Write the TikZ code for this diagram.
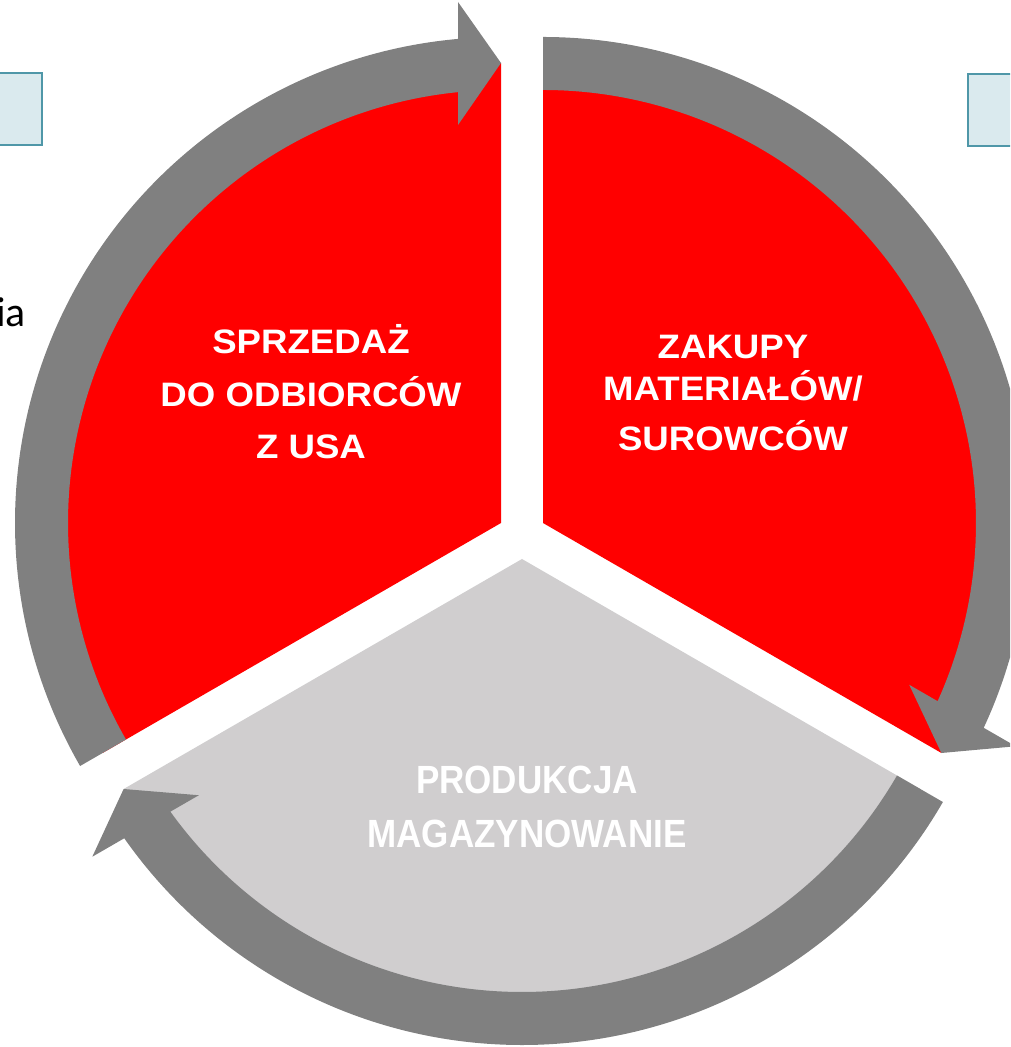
\documentclass[tikz,border=0pt]{standalone}
\usepackage{fontspec}
\setmainfont{Liberation Sans}
\newfontfamily\topfont[FakeStretch=1.08]{Liberation Sans}
\newfontfamily\bottomfont[FakeStretch=0.89]{Liberation Sans}
\newfontfamily\slidefont{Carlito}
\usepackage{xcolor}
\usetikzlibrary{positioning,calc}

\definecolor{segred}{HTML}{FF0000}
\definecolor{bandgray}{HTML}{808080}
\definecolor{prodgray}{HTML}{D0CECF}
\definecolor{boxfill}{HTML}{DAEAEE}
\definecolor{boxdraw}{HTML}{4F97A8}

% one part of the cycle: shift, direction of the arrow tip, fill
\newcommand{\cyclepart}[3]{%
  \begin{scope}[shift={#1}, rotate=#2]
    \fill[#3] (0,0) -- (120:460) arc[start angle=120, end angle=0, radius=460] -- cycle;
    \fill[band] (120:486) arc[start angle=120, end angle={asin(43/486)}, radius=486]
      -- (521,43) -- (460,0) -- (398,43) -- ({asin(43/433)}:433)
      arc[start angle={asin(43/433)}, end angle=120, radius=433] -- cycle;
  \end{scope}}

\begin{document}
\begin{tikzpicture}[
    x=0.02cm, y=0.02cm, % one unit is one pixel of the slide
    band/.style={fill=bandgray},
    seglabel/.style={text=white, align=center, inner sep=0pt},
    sidebox/.style={fill=boxfill, draw=boxdraw, line width=1.3}
]
\useasboundingbox (-522,-512) rectangle (488,535);
\clip (-522,-512) rectangle (488,535);

% Boxes at the slide edges
\filldraw[sidebox] (-560,462) rectangle (-480,390);
\filldraw[sidebox] (446,461) rectangle (540,389);
\node[anchor=base east, inner sep=0pt, font=\slidefont\fontsize{23.8pt}{28pt}\selectfont] (I) at (-496,208) {ia};

% Parts of the cycle
\cyclepart{(-21,12)}{90}{segred}
\cyclepart{(21,12)}{-30}{segred}
\cyclepart{(0,-24)}{210}{prodgray}

% Labels
\node[seglabel, font=\topfont\bfseries\fontsize{19.3pt}{29.8pt}\selectfont] (A) at (-211,143)
    {SPRZEDAŻ\\DO ODBIORCÓW\\Z USA};
\node[seglabel, font=\topfont\bfseries\fontsize{19.3pt}{28.3pt}\selectfont] (B) at (211,142)
    {ZAKUPY\\[-4.5pt]MATERIAŁÓW/\\SUROWCÓW};
\node[seglabel, font=\bottomfont\bfseries\fontsize{22.4pt}{30.6pt}\selectfont] (C) at (5,-272)
    {PRODUKCJA\\MAGAZYNOWANIE};

\end{tikzpicture}
\end{document}
